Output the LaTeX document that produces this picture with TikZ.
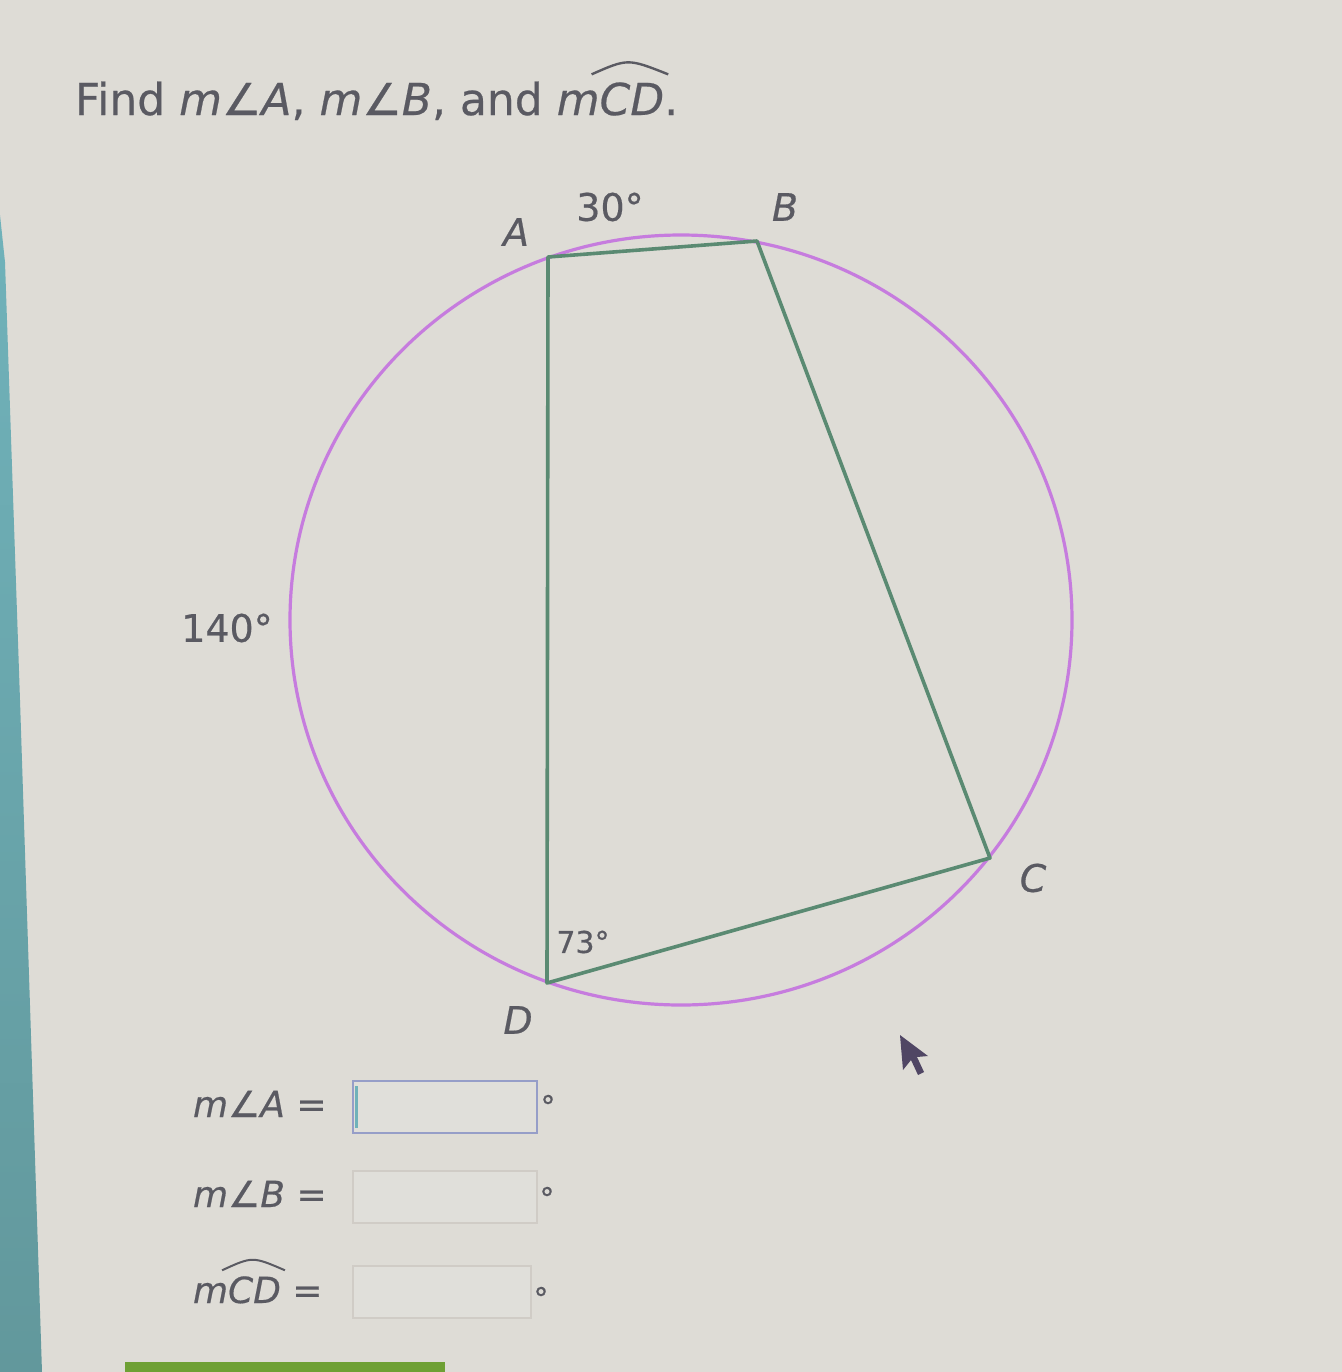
\documentclass[tikz,border=0pt]{standalone}
\usepackage{fontspec}
\setmainfont{DejaVu Sans}[FakeBold=0.5]
\begin{document}
\begin{tikzpicture}[x=0.5pt,y=-0.5pt,
  txt/.style={text=textgray,inner sep=0pt,outer sep=0pt},
  circ/.style={draw=violetline,line width=1.6pt},
  quad/.style={draw=greenline,line width=1.8pt,line join=round},
  ansbox/.style={draw=boxline,line width=0.8pt,fill=boxfill},
  lbl/.style={txt,font=\fontsize{19}{21}\selectfont},
  ilbl/.style={txt,font=\fontsize{19}{21}\selectfont\itshape},
  rowlbl/.style={txt,font=\fontsize{18}{20}\selectfont\itshape},
  degsym/.style={txt,font=\fontsize{15}{17}\selectfont}]
\definecolor{bg}{RGB}{222,220,214}
\definecolor{textgray}{RGB}{90,90,98}
\definecolor{violetline}{RGB}{198,124,222}
\definecolor{greenline}{RGB}{90,138,114}
\definecolor{boxline}{RGB}{150,158,200}
\definecolor{boxfaint}{RGB}{208,204,198}
\definecolor{boxfill}{RGB}{224,223,218}
\definecolor{teal1}{RGB}{112,178,186}
\definecolor{teal2}{RGB}{98,152,156}
\definecolor{barcol}{RGB}{110,160,52}
\definecolor{cursorcol}{RGB}{80,70,100}
% background
\fill[bg] (0,0) rectangle (1342,1372);
\useasboundingbox (0,0) rectangle (1342,1372);
% left teal strip
\shade[top color=teal1,bottom color=teal2] (0,215) -- (5,262) -- (20,700) -- (42,1372) -- (0,1372) -- cycle;
% bottom green bar
\fill[barcol] (125,1362) rectangle (445,1372);

% title
\node[txt,font=\fontsize{22}{24}\selectfont,anchor=base west] (t1) at (75,115)
  {Find {\itshape m∠A}, {\itshape m∠B}, and {\itshape m}};
\node[txt,font=\fontsize{22}{24}\selectfont\itshape,anchor=base west] (t2) at (t1.base east) {CD};
\node[txt,font=\fontsize{22}{24}\selectfont,anchor=base west] (t3) at (t2.base east) {.};
\draw[textgray,line width=1.2pt] ([xshift=-4pt,yshift=4pt]t2.north west) .. controls ([xshift=-2pt,yshift=12pt]t2.north) .. ([xshift=2pt,yshift=4pt]t2.north east);

% circle and quadrilateral
\coordinate (O) at (681,620);
\coordinate (A) at (548,257);
\coordinate (B) at (757,241);
\coordinate (C) at (990,858);
\coordinate (D) at (547,983);
\draw[circ] (O) ellipse [x radius=391, y radius=385];
\draw[quad] (A) -- (B) -- (C) -- (D) -- cycle;

% labels
\node[ilbl] (la) at (516,232) {A};
\node[ilbl] (lb) at (785,207) {B};
\node[ilbl] (lc) at (1033,878) {C};
\node[ilbl] (ld) at (518,1020) {D};
\node[lbl] (l30) at (610,207) {30°};
\node[lbl] (l140) at (227,628) {140°};
\node[txt,font=\fontsize{15}{17}\selectfont] (l73) at (583,942) {73°};

% answer rows
\node[rowlbl,anchor=base west] (r1) at (193,1117) {m∠A {\upshape =}};
\node[rowlbl,anchor=base west] (r2) at (193,1207) {m∠B {\upshape =}};
\node[rowlbl,anchor=base west] (r3m) at (193,1303) {m};
\node[rowlbl,anchor=base west] (r3cd) at (r3m.base east) {CD};
\node[rowlbl,anchor=base west] (r3e) at (r3cd.base east) {\upshape\ =};
\draw[textgray,line width=1pt] ([xshift=-3pt,yshift=3pt]r3cd.north west) .. controls ([xshift=-1pt,yshift=10pt]r3cd.north) .. ([xshift=2pt,yshift=3pt]r3cd.north east);

\node[ansbox,anchor=north west,minimum width=92pt,minimum height=26pt,inner sep=0pt] (b1) at (352,1080) {};
\draw[teal1,line width=1.5pt] ([xshift=2pt,yshift=-3pt]b1.north west) -- ([xshift=2pt,yshift=3pt]b1.south west);
\node[ansbox,draw=boxfaint,anchor=north west,minimum width=92pt,minimum height=26pt,inner sep=0pt] (b2) at (352,1170) {};
\node[ansbox,draw=boxfaint,anchor=north west,minimum width=89pt,minimum height=26pt,inner sep=0pt] (b3) at (352,1265) {};
\node[degsym] (d1) at (548,1106) {°};
\node[degsym] (d2) at (547,1198) {°};
\node[degsym] (d3) at (541,1298) {°};

% mouse cursor
\fill[cursorcol] (900,1035) -- (903,1070) -- (911,1060) -- (918,1075) -- (924,1072) -- (917,1057) -- (928,1056) -- cycle;
\end{tikzpicture}
\end{document}
